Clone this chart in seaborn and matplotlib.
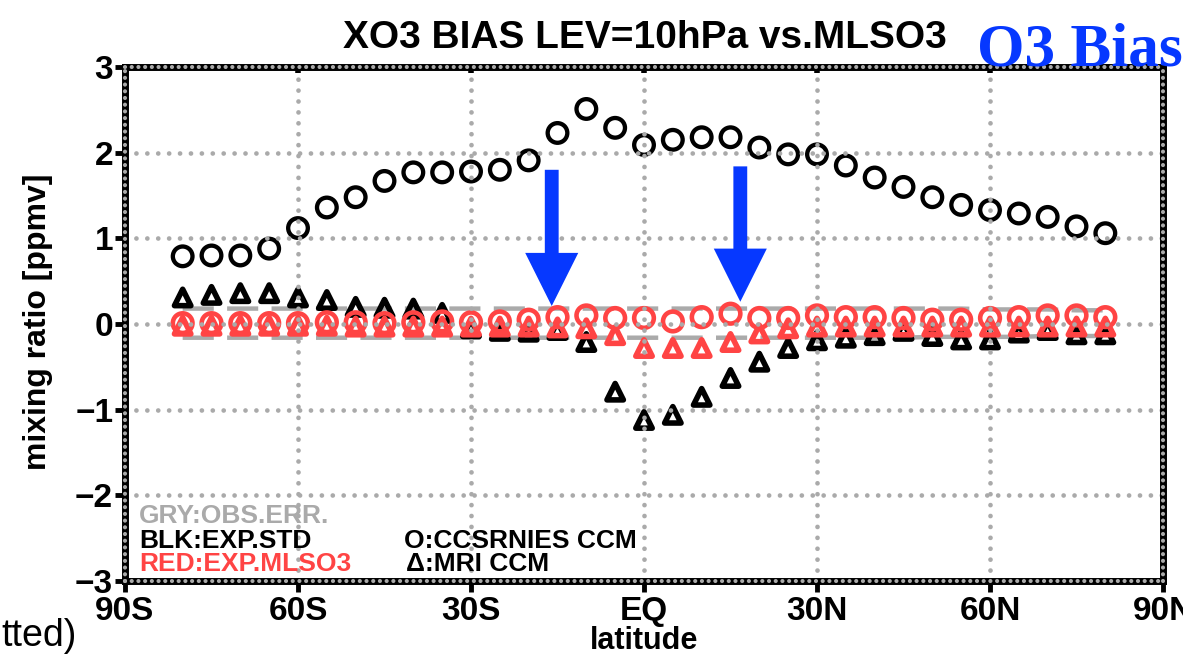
import matplotlib
matplotlib.use("Agg")
import matplotlib.pyplot as plt
import seaborn as sns
import pandas as pd

# ---------------- data ----------------
lat = [-80, -75, -70, -65, -60, -55, -50, -45, -40, -35, -30, -25, -20, -15, -10, -5,
       0, 5, 10, 15, 20, 25, 30, 35, 40, 45, 50, 55, 60, 65, 70, 75, 80]

ccsr_std = [0.79, 0.80, 0.80, 0.88, 1.12, 1.36, 1.48, 1.67, 1.77, 1.77, 1.78, 1.80, 1.91,
            2.23, 2.51, 2.29, 2.09, 2.15, 2.18, 2.18, 2.06, 1.98, 1.98, 1.85, 1.71, 1.60,
            1.48, 1.39, 1.33, 1.29, 1.25, 1.14, 1.06]
ccsr_mls = [0.01, 0.01, 0.01, 0.01, 0.01, 0.02, 0.02, 0.01, 0.02, 0.03, 0.02, 0.03, 0.05,
            0.08, 0.10, 0.07, 0.07, 0.03, 0.08, 0.12, 0.07, 0.07, 0.10, 0.08, 0.08, 0.07,
            0.05, 0.05, 0.07, 0.08, 0.10, 0.10, 0.08]
mri_std = [0.31, 0.34, 0.36, 0.36, 0.31, 0.28, 0.20, 0.19, 0.18, 0.13, -0.05, -0.08, -0.09,
           -0.07, -0.21, -0.79, -1.12, -1.06, -0.85, -0.63, -0.44, -0.28, -0.19, -0.16,
           -0.13, -0.08, -0.14, -0.18, -0.18, -0.10, -0.07, -0.12, -0.12]
mri_mls = [-0.02, -0.02, -0.02, -0.02, -0.02, -0.02, -0.03, -0.03, -0.03, -0.03, -0.03, -0.03,
           -0.03, -0.04, -0.05, -0.13, -0.28, -0.28, -0.28, -0.21, -0.11, -0.05, -0.03,
           -0.03, -0.03, -0.03, -0.03, -0.03, -0.03, -0.03, -0.03, -0.03, -0.03]
obs_err_hi = [0.18, 0.18, 0.18, 0.18, 0.18, 0.18, 0.18, 0.18, 0.18, 0.18, 0.18, 0.18, 0.18,
              0.18, 0.18, 0.18, 0.18, 0.18, 0.18, 0.18, 0.18, 0.18, 0.18, 0.18, 0.18, 0.18,
              0.18, 0.18, 0.17, 0.17, 0.17, 0.16, 0.16]
obs_err_lo = [-0.16, -0.16, -0.16, -0.16, -0.16, -0.16, -0.16, -0.16, -0.16, -0.16, -0.16,
              -0.16, -0.16, -0.16, -0.16, -0.16, -0.16, -0.16, -0.16, -0.16, -0.16, -0.16,
              -0.16, -0.16, -0.16, -0.16, -0.15, -0.15, -0.15, -0.15, -0.14, -0.14, -0.14]

xticks = [-90, -60, -30, 0, 30, 60, 90]
xticklabels = ["90S", "60S", "30S", "EQ", "30N", "60N", "90N"]
yticks = [-3, -2, -1, 0, 1, 2, 3]

# arrows (annotation): x position, start, tip
arrow_x = [-16.0, 16.7]
arrow_top = [1.80, 1.84]
arrow_tip = [0.21, 0.26]

df = pd.DataFrame({"lat": lat, "ccsr_std": ccsr_std, "ccsr_mls": ccsr_mls,
                   "mri_std": mri_std, "mri_mls": mri_mls,
                   "hi": obs_err_hi, "lo": obs_err_lo})

# ---------------- style ----------------
sns.set_theme(style="white")
plt.rcParams["font.family"] = ["Liberation Sans", "DejaVu Sans"]
plt.rcParams["text.color"] = "black"
plt.rcParams["xtick.color"] = "black"
plt.rcParams["ytick.color"] = "black"
plt.rcParams["xtick.labelcolor"] = "black"
plt.rcParams["ytick.labelcolor"] = "black"
GRAY = "#aaaaaa"
RED = "#ff4444"
BLUE = "#0638ff"

W, H = 1183, 655
fig = plt.figure(figsize=(W / 100, H / 100), dpi=100)
fig.patch.set_facecolor("white")
ax = fig.add_axes([125 / W, 1 - 581 / H, (1163 - 125) / W, (581 - 67) / H])
ax.set_facecolor("white")

# obs error dashed lines
for col in ["hi", "lo"]:
    sns.lineplot(data=df, x="lat", y=col, ax=ax, color=GRAY, linewidth=3.2,
                 linestyle=(0, (7.0, 3.0)), zorder=1.5, legend=False)

# markers
sns.scatterplot(data=df, x="lat", y="ccsr_std", ax=ax, marker="o", s=200,
                facecolor="none", edgecolor="black", linewidth=3.1, zorder=2.0, legend=False)
sns.scatterplot(data=df, x="lat", y="mri_std", ax=ax, marker="^", s=140,
                facecolor="none", edgecolor="black", linewidth=4.0, zorder=2.1, legend=False)
sns.scatterplot(data=df, x="lat", y="ccsr_mls", ax=ax, marker="o", s=200,
                facecolor="none", edgecolor=RED, linewidth=3.3, zorder=2.2, legend=False)
sns.scatterplot(data=df, x="lat", y="mri_mls", ax=ax, marker="^", s=140,
                facecolor="none", edgecolor=RED, linewidth=4.0, zorder=2.3, legend=False)

# blue arrows
for xa, ya, yt in zip(arrow_x, arrow_top, arrow_tip):
    ax.arrow(xa, ya, 0, yt - ya, width=2.4, head_width=9.2, head_length=0.62,
             length_includes_head=True, color=BLUE, linewidth=0, zorder=6)

ax.set_xlim(-90, 90)
ax.set_ylim(-3, 3)
ax.set_xticks(xticks)
ax.set_xticklabels(xticklabels)
ax.set_yticks(yticks)
ax.set_xlabel("")
ax.set_ylabel("")

ax.set_axisbelow(False)
ax.grid(True, color=GRAY, linewidth=3.4, linestyle=(0, (0.01, 2.3)))
for gl in ax.get_xgridlines() + ax.get_ygridlines():
    gl.set_dash_capstyle("round")

for sp in ax.spines.values():
    sp.set_visible(True)
    sp.set_color("black")
    sp.set_linewidth(5.0)
    sp.set_zorder(7)
# gray dots on spines
for (x0, y0, x1, y1) in [(0, 0, 1, 0), (0, 1, 1, 1), (0, 0, 0, 1), (1, 0, 1, 1)]:
    ln, = ax.plot([x0, x1], [y0, y1], transform=ax.transAxes, clip_on=False, color=GRAY,
                  linewidth=3.0, linestyle=(0, (0.01, 1.6)), zorder=8)
    ln.set_dash_capstyle("round")

ax.tick_params(axis="x", which="major", bottom=True, top=True, direction="out",
               length=8, width=3.5, color="black", labelcolor="black", pad=3)
ax.tick_params(axis="y", which="major", left=True, right=False, direction="out",
               length=7, width=3.5, color="black", labelcolor="black", pad=1.5)
for lbl in ax.get_xticklabels() + ax.get_yticklabels():
    lbl.set_fontfamily(["Liberation Sans", "DejaVu Sans"])
    lbl.set_fontweight("bold")
    lbl.set_fontsize(24)
    lbl.set_color("black")
# top ticks as small inward marks
for tl in ax.xaxis.get_major_ticks():
    tl.tick2line.set_marker(3)
    tl.tick2line.set_markersize(4)
    tl.tick2line.set_markeredgewidth(4)

# ---------------- texts ----------------
def ftext(x, y, s, **kw):
    fig.text(x / W, 1 - y / H, s, **kw)

ftext(645, 38, "XO3 BIAS LEV=10hPa vs.MLSO3", ha="center", va="center",
      fontsize=28, fontweight="bold", color="black")
ftext(977, 50, "O3 Bias", ha="left", va="center", fontsize=44, fontweight="bold",
      color=BLUE, family=["Liberation Serif", "DejaVu Serif"])
ftext(38, 322, "mixing ratio [ppmv]", ha="center", va="center", rotation=90,
      fontsize=23, fontweight="bold", color="black")
ftext(644, 641, "latitude", ha="center", va="center", fontsize=22, fontweight="bold",
      color="black")
ftext(1, 636, "tted)", ha="left", va="center", fontsize=27, color="black")

leg_kw = dict(ha="left", va="center", fontsize=19, fontweight="bold")
ftext(139, 516, "GRY:OBS.ERR.", color=GRAY, **leg_kw)
ftext(139, 541, "BLK:EXP.STD", color="black", **leg_kw)
ftext(139, 564, "RED:EXP.MLSO3", color=RED, **leg_kw)
ftext(404, 541, "O:CCSRNIES CCM", color="black", **leg_kw)
ftext(406, 564, "Δ:MRI CCM", color="black", **leg_kw)

fig.savefig("out.png", dpi=100, facecolor="white")
